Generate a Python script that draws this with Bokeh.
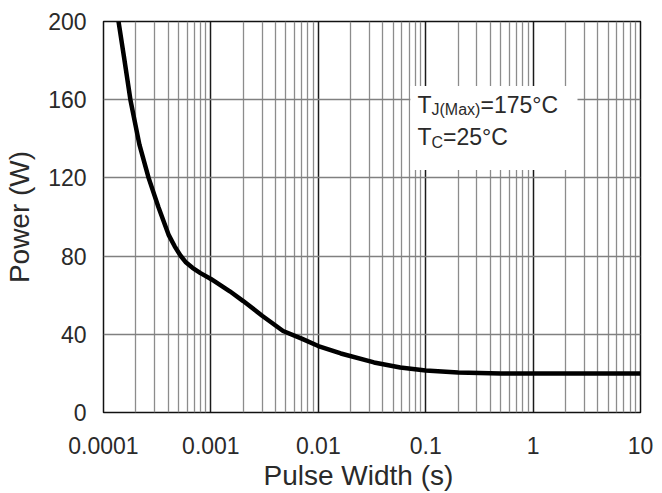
from bokeh.plotting import figure
from bokeh.models import FixedTicker, Range1d, Label, BoxAnnotation, Title
from bokeh.embed import file_html
from bokeh.resources import INLINE

# --- data ---
pulse_width = [0.000138, 0.000155, 0.000178, 0.000216, 0.000263, 0.000325, 0.000403,
               0.00046, 0.00052, 0.00058, 0.000674, 0.0008, 0.001, 0.0015, 0.002,
               0.003, 0.0047, 0.007, 0.01, 0.0162, 0.033, 0.058, 0.1, 0.2, 0.5,
               1, 2, 5, 10]
power = [200, 182, 160, 137, 120, 105, 91, 85, 80.3, 77, 74, 71.3, 68.3, 62, 57,
         49.5, 41.7, 37.8, 34, 30.2, 25.6, 23, 21.5, 20.4, 20, 20, 20, 20, 20]

x_ticks = [0.0001, 0.001, 0.01, 0.1, 1, 10]
x_tick_labels = ["0.0001", "0.001", "0.01", "0.1", "1", "10"]
y_ticks = [0, 40, 80, 120, 160, 200]

minor_x = [m * d for d in x_ticks[:-1] for m in range(2, 10)]

FONT = "Liberation Sans"
TXT = "#2a2a2a"

p = figure(width=662, height=493, x_axis_type="log",
           x_range=Range1d(0.0001, 10), y_range=Range1d(0, 200),
           output_backend="svg", toolbar_location=None,
           min_border_left=103, min_border_top=21, min_border_right=22,
           min_border_bottom=81)

p.outline_line_color = "#111111"
p.outline_line_width = 1.5
p.background_fill_color = "white"
p.border_fill_color = "white"

p.xaxis.ticker = FixedTicker(ticks=x_ticks, minor_ticks=minor_x)
p.xaxis.major_label_overrides = {t: l for t, l in zip(x_ticks, x_tick_labels)}
p.yaxis.ticker = FixedTicker(ticks=y_ticks)

for ax in (p.xaxis, p.yaxis):
    ax.axis_line_color = None
    ax.major_tick_line_color = None
    ax.minor_tick_line_color = None
    ax.major_label_text_font = FONT
    ax.major_label_text_font_size = "23px"
    ax.major_label_text_color = TXT
    ax.axis_label_text_font = FONT
    ax.axis_label_text_font_size = "28px"
    ax.axis_label_text_font_style = "normal"
    ax.axis_label_text_color = TXT

p.yaxis.axis_label = "Power (W)"
p.xaxis.major_label_standoff = 18
p.yaxis.major_label_standoff = 11
p.yaxis.axis_label_standoff = 10

p.xgrid.grid_line_color = "#1a1a1a"
p.xgrid.grid_line_width = 1.5
p.xgrid.minor_grid_line_color = "#8c8c8c"
p.xgrid.minor_grid_line_width = 1.3
p.ygrid.grid_line_color = "#808080"
p.ygrid.grid_line_width = 1.5
p.ygrid.minor_grid_line_color = None

p.line(pulse_width, power, line_color="black", line_width=4.5)

# x-axis title, placed slightly left of the frame centre as in the reference
p.add_layout(Title(text="Pulse Width (s)", align="left", offset=160,
                   text_font=FONT, text_font_size="28px",
                   text_font_style="normal", text_color=TXT, standoff=3),
             "below")

# white box behind the annotation text
p.add_layout(BoxAnnotation(left=0.072, right=2.59, bottom=124, top=167,
                           fill_color="white", fill_alpha=1.0, line_color=None,
                           level="overlay"))

ax0 = 0.0839
labels = [
    ("T", 0, 0, 23, 157.5),
    ("J(Max)", 14, -5, 16, 157.5),
    ("=175°C", 63, 0, 23, 157.5),
    ("T", 0, 0, 23, 140.8),
    ("C", 14, -5, 16, 140.8),
    ("=25°C", 25.5, 0, 23, 140.8),
]
for txt, dx, dy, fs, yy in labels:
    p.add_layout(Label(x=ax0, y=yy, text=txt, x_offset=dx, y_offset=dy,
                       text_font=FONT, text_font_size=f"{fs}px",
                       text_color=TXT, text_baseline="alphabetic",
                       level="overlay"))

open("out.html", "w").write(file_html(p, INLINE))
